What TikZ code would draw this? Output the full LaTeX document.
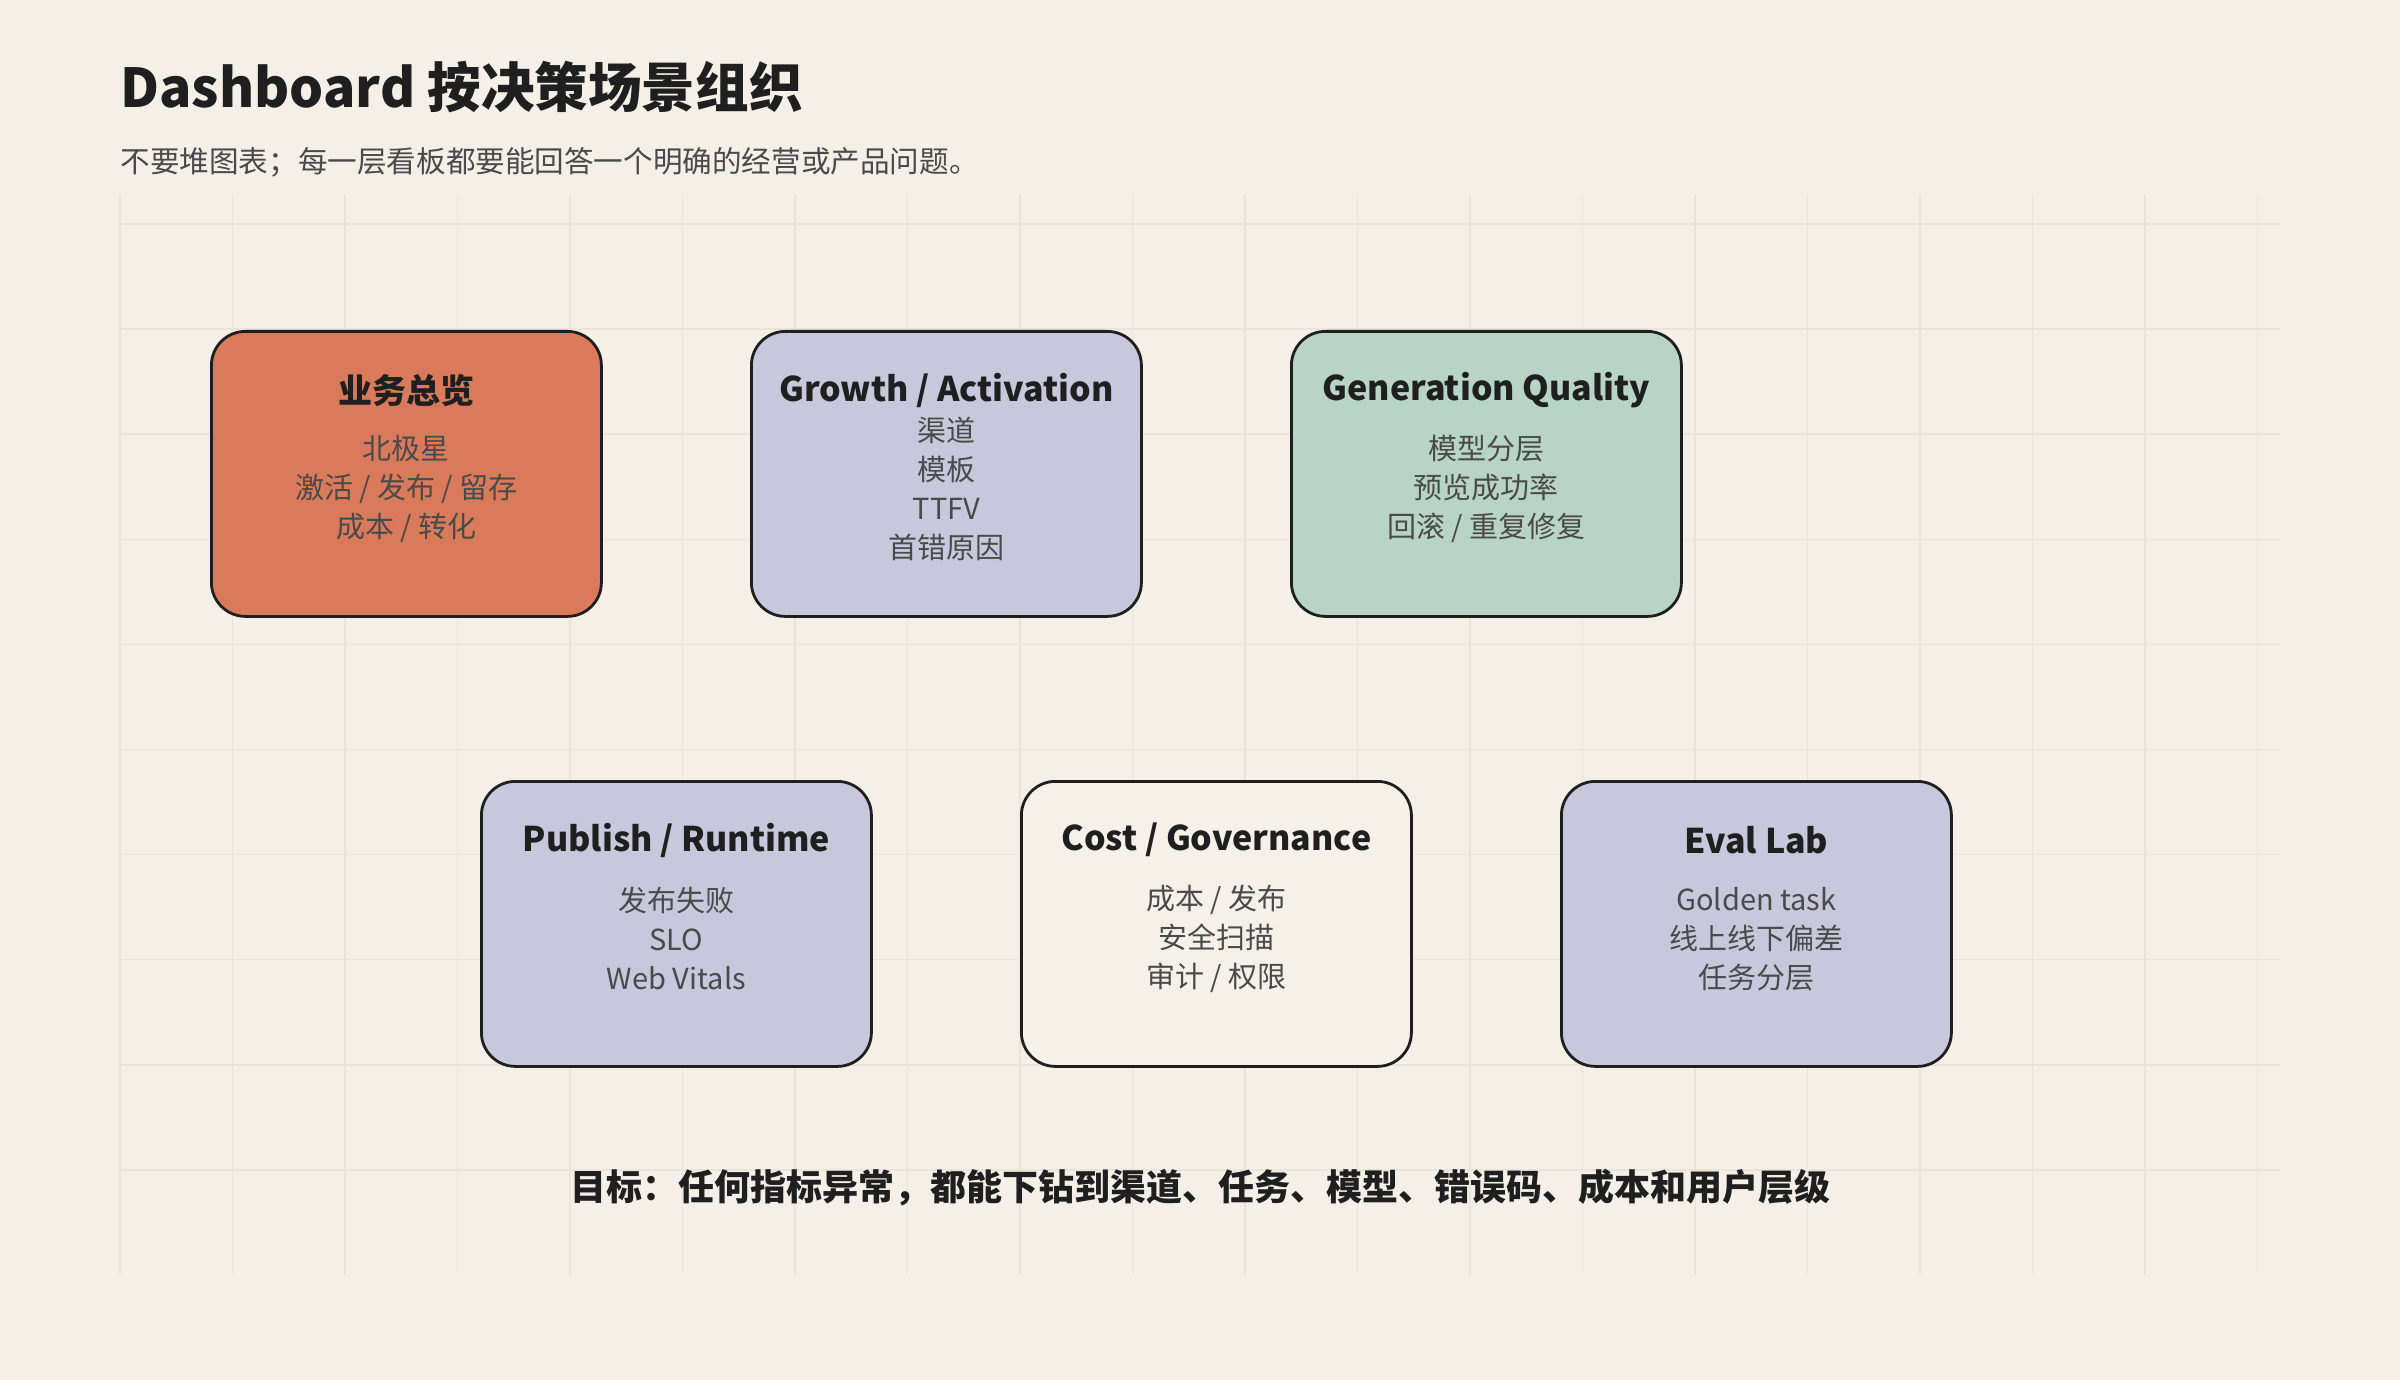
\documentclass[tikz,border=0pt]{standalone}
\usepackage{fontspec}
\setmainfont{Noto Sans CJK SC}
\definecolor{paper}{HTML}{F4F0E8}
\definecolor{gridline}{HTML}{EAE4D9}
\definecolor{ink}{HTML}{1F1F1F}
\definecolor{muted}{HTML}{4A4A4A}
\definecolor{clay}{HTML}{D97A5B}
\definecolor{lavender}{HTML}{C7C8DC}
\definecolor{sage}{HTML}{B8D4C6}
\definecolor{cream}{HTML}{F5F1E9}
\begin{document}
\begin{tikzpicture}[
  x=0.5pt, y=-0.5pt,
  panel/.style    = {draw=ink, line width=1.4pt, rectangle, rounded corners=17pt,
                     minimum width=195pt, minimum height=142.5pt, anchor=north west},
  ptitle/.style   = {font=\fontsize{17pt}{20pt}\selectfont\bfseries, text=ink, inner sep=0pt},
  pbody/.style    = {font=\fontsize{14.5pt}{19.5pt}\selectfont, text=muted, align=center, inner sep=0pt},
  gridrule/.style = {draw=gridline, line width=0.75pt},
]
\useasboundingbox (0,0) rectangle (2400,1380);
\fill[paper] (0,0) rectangle (2400,1380);

% --- background grid ----------------------------------------------------
\foreach \i in {0,...,19}
  \draw[gridrule] (120+112.5*\i,195) -- (120+112.5*\i,1275);
\foreach \j in {0,...,9}
  \draw[gridrule] (120,224+105.1*\j) -- (2280,224+105.1*\j);

% --- heading ------------------------------------------------------------
\node[anchor=base west, inner sep=0pt, text=ink,
      font=\fontsize{26.8pt}{32pt}\selectfont\bfseries] (title) at (120,108)
  {Dashboard 按决策场景组织};
\node[anchor=base west, inner sep=0pt, text=muted,
      font=\fontsize{14.8pt}{18pt}\selectfont] (subtitle) at (120,173)
  {不要堆图表；每一层看板都要能回答一个明确的经营或产品问题。};

% --- row 1 --------------------------------------------------------------
\node[panel, fill=clay] (biz) at (210,330) {};
\node[ptitle] (bizT) at ([yshift=-30pt]biz.north) {业务总览};
\node[pbody]  (bizB) at ([yshift=-7.5pt]biz.center)
  {北极星\\激活 / 发布 / 留存\\成本 / 转化};

\node[panel, fill=lavender] (growth) at (750,330) {};
\node[ptitle] (growthT) at ([yshift=-30pt]growth.north) {Growth / Activation};
\node[pbody]  (growthB) at ([yshift=-7.5pt]growth.center)
  {渠道\\模板\\TTFV\\首错原因};

\node[panel, fill=sage] (gen) at (1290,330) {};
\node[ptitle] (genT) at ([yshift=-30pt]gen.north) {Generation Quality};
\node[pbody]  (genB) at ([yshift=-7.5pt]gen.center)
  {模型分层\\预览成功率\\回滚 / 重复修复};

% --- row 2 --------------------------------------------------------------
\node[panel, fill=lavender] (pub) at (480,780) {};
\node[ptitle] (pubT) at ([yshift=-30pt]pub.north) {Publish / Runtime};
\node[pbody]  (pubB) at ([yshift=-7.5pt]pub.center)
  {发布失败\\SLO\\Web Vitals};

\node[panel, fill=cream] (cost) at (1020,780) {};
\node[ptitle] (costT) at ([yshift=-30pt]cost.north) {Cost / Governance};
\node[pbody]  (costB) at ([yshift=-7.5pt]cost.center)
  {成本 / 发布\\安全扫描\\审计 / 权限};

\node[panel, fill=lavender] (eval) at (1560,780) {};
\node[ptitle] (evalT) at ([yshift=-30pt]eval.north) {Eval Lab};
\node[pbody]  (evalB) at ([yshift=-7.5pt]eval.center)
  {Golden task\\线上线下偏差\\任务分层};

% --- goal line ----------------------------------------------------------
\node[inner sep=0pt, text=ink, font=\fontsize{18pt}{22pt}\selectfont\bfseries] (goal) at (1200,1188)
  {目标：任何指标异常，都能下钻到渠道、任务、模型、错误码、成本和用户层级};

\end{tikzpicture}
\end{document}
